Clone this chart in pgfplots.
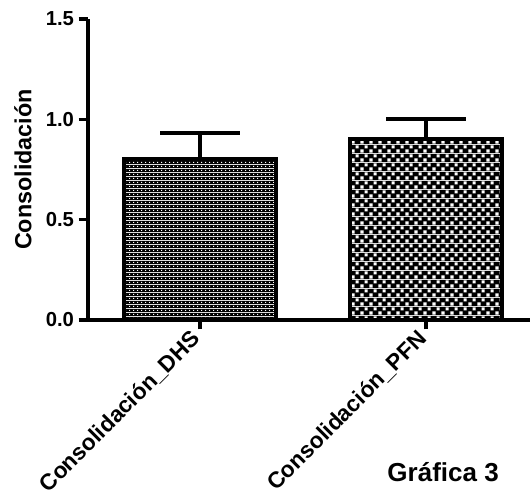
\documentclass[border=0pt]{standalone}
\usepackage{pgfplots}
\pgfplotsset{compat=1.18}
\usepackage{fontspec}
\setmainfont{Liberation Sans}
\usetikzlibrary{patterns.meta}

\pgfdeclarepattern{
  name=finedots, type=colored,
  bottom left={\pgfpoint{0pt}{0pt}}, top right={\pgfpoint{3pt}{3pt}},
  tile size={\pgfpoint{3pt}{3pt}},
  code={
    \pgfsetfillcolor{black}
    \pgfpathrectangle{\pgfpoint{0pt}{0pt}}{\pgfpoint{3pt}{3pt}}\pgfusepath{fill}
    \pgfsetfillcolor{white}
    \pgfpathrectangle{\pgfpoint{1pt}{1pt}}{\pgfpoint{1pt}{1pt}}\pgfusepath{fill}
  }
}
\pgfdeclarepattern{
  name=bigchecks, type=colored,
  bottom left={\pgfpoint{0pt}{0pt}}, top right={\pgfpoint{6.75pt}{6.75pt}},
  tile size={\pgfpoint{6.75pt}{6.75pt}},
  code={
    \pgfsetfillcolor{black}
    \pgfpathrectangle{\pgfpoint{0pt}{0pt}}{\pgfpoint{6.75pt}{6.75pt}}\pgfusepath{fill}
    \pgfsetfillcolor{white}
    \pgfpathrectangle{\pgfpoint{0.4pt}{0.4pt}}{\pgfpoint{2.6pt}{2.6pt}}
    \pgfpathrectangle{\pgfpoint{3.775pt}{3.775pt}}{\pgfpoint{2.6pt}{2.6pt}}
    \pgfusepath{fill}
  }
}

\begin{document}
\begin{tikzpicture}
\path[use as bounding box] (-66pt,-137.25pt) rectangle (331.5pt,240pt);
\begin{axis}[
  at={(0,0)}, anchor=south west,
  scale only axis, width=331.5pt, height=225.75pt,
  xmin=-0.496, xmax=1.46, ymin=0, ymax=1.5,
  clip=false,
  axis lines=left,
  axis line style={-, line width=3pt},
  tick align=outside,
  major tick length=7pt,
  major tick style={line width=2.5pt, black},
  xtick={0,1},
  xticklabels={Consolidación\_DHS, Consolidación\_PFN},
  xticklabel shift=2pt,
  x tick label style={rotate=45, anchor=east, font=\bfseries\fontsize{17pt}{20pt}\selectfont},
  ytick={0,0.5,1,1.5},
  y tick label style={font=\bfseries\fontsize{15.2pt}{18pt}\selectfont,
    /pgf/number format/fixed, /pgf/number format/fixed zerofill,
    /pgf/number format/precision=1},
  /pgf/number format/assume math mode=true,
  every axis y label/.style={at={(axis description cs:-0.147,0.5)}, rotate=90, anchor=center,
    font=\bfseries\fontsize{17.5pt}{20pt}\selectfont},
  ylabel={Consolidación},
]
\addplot[ybar, bar width=114pt, bar shift=0pt, draw=black, line width=3pt, pattern=finedots,
  error bars/.cd, y dir=plus, y explicit,
  error bar style={line width=3pt, black},
  error mark options={rotate=90, black, line width=3pt, mark size=30pt}]
  coordinates {(0,0.80) +- (0,0.13)};
\addplot[ybar, bar width=114pt, bar shift=0pt, draw=black, line width=3pt, pattern=bigchecks,
  error bars/.cd, y dir=plus, y explicit,
  error bar style={line width=3pt, black},
  error mark options={rotate=90, black, line width=3pt, mark size=30pt}]
  coordinates {(1,0.90) +- (0,0.10)};
\node[anchor=base east, font=\bfseries\fontsize{19.5pt}{22pt}\selectfont]
  at (axis description cs:0.94,-0.535) {Gráfica 3};
\end{axis}
\end{tikzpicture}
\end{document}
